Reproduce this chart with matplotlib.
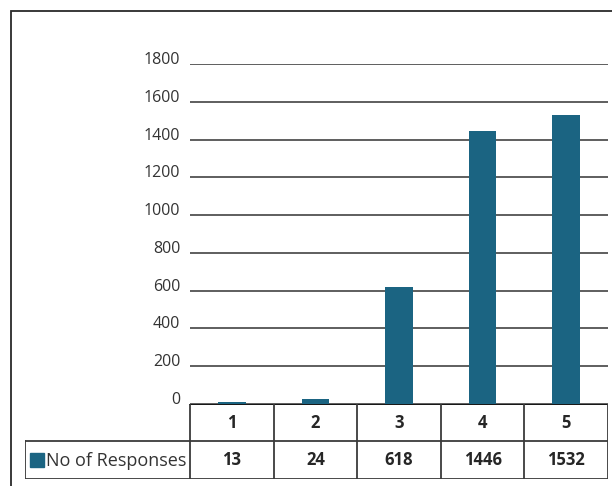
import matplotlib.pyplot as plt
from matplotlib.patches import Rectangle

categories = ["1", "2", "3", "4", "5"]
responses = [13, 24, 618, 1446, 1532]
series_name = "No of Responses"
y_ticks = [0, 200, 400, 600, 800, 1000, 1200, 1400, 1600, 1800]

bar_color = "#1b6482"
grid_color = "#5e5e5e"
line_color = "#3a3a3a"

plt.rcParams["font.family"] = ["Open Sans", "DejaVu Sans"]

W, H = 612, 486
fig = plt.figure(figsize=(W / 100, H / 100), dpi=100)

# outer frame (left and top edges visible)
fig.patches.append(Rectangle((10.5 / W, -0.05), 1.2, 1 - 10.5 / H + 0.05,
                             transform=fig.transFigure, fill=False,
                             edgecolor="#2a2a2a", lw=1.3))

# plot area: x 190..608 px, y 404..64 px
left, right = 190, 608
y0, y1 = 404, 64
ax = fig.add_axes([left / W, (H - y0) / H, (right - left) / W, (y0 - y1) / H])
x = range(len(categories))
ax.bar(x, responses, width=0.33, color=bar_color, zorder=3)
ax.set_xlim(-0.5, len(categories) - 0.5)
ax.set_ylim(0, 1800)
ax.set_yticks(y_ticks)
ax.set_yticklabels([str(t) for t in y_ticks], fontsize=11.5, color="#333333")
for lab in ax.get_yticklabels():
    lab.set_va("baseline")
ax.tick_params(axis="y", length=0, pad=7)
ax.set_xticks([])
ax.grid(axis="y", color=grid_color, lw=1.4, zorder=0)
for s in ax.spines.values():
    s.set_visible(False)
ax.patch.set_alpha(0)

# data table below the plot
unit = (right - left) / len(categories)
tleft = 25
xmin = -0.5 - (left - tleft) / unit
tbottom = 478.5
tab = fig.add_axes([tleft / W, (H - tbottom) / H, (right - tleft) / W,
                    (tbottom - y0) / H])
tab.set_xlim(xmin, len(categories) - 0.5)
tab.set_ylim(0, 2)
tab.axis("off")

lw = 1.3
tab.plot([-0.5, len(categories) - 0.5], [2, 2], color="black", lw=lw)
tab.plot([xmin, len(categories) - 0.5], [1, 1], color=line_color, lw=lw)
tab.plot([xmin, len(categories) - 0.5], [0, 0], color=line_color, lw=lw)
tab.plot([xmin, xmin], [0, 1], color=line_color, lw=lw)
for i in range(len(categories) + 1):
    tab.plot([i - 0.5, i - 0.5], [0, 2], color=line_color, lw=lw)

for i, (c, v) in enumerate(zip(categories, responses)):
    tab.text(i, 1.5, c, ha="center", va="center", fontsize=12,
             fontweight="bold", color="#262626")
    tab.text(i, 0.5, str(v), ha="center", va="center", fontsize=12,
             fontweight="bold", color="#262626")

# legend key and row label
key_w = 14 / unit
tab.add_patch(Rectangle((xmin + 5 / unit, 0.3), key_w, 0.38,
                        color=bar_color, clip_on=False))
tab.text(xmin + 21 / unit, 0.47, series_name, ha="left", va="center",
         fontsize=13, color="#333333")

fig.savefig("out.png", dpi=100)
